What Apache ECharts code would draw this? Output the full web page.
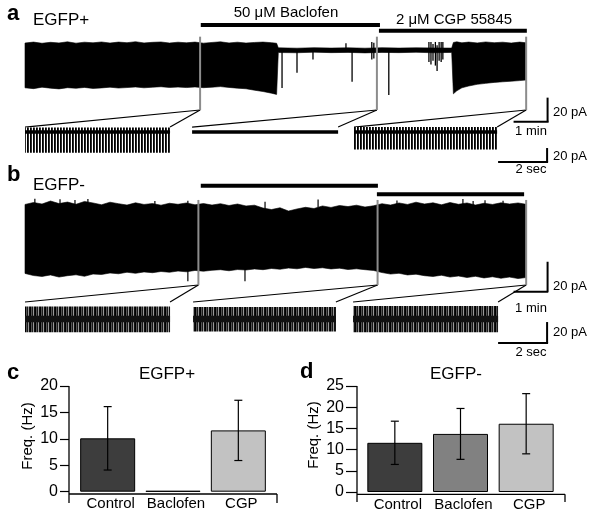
<!DOCTYPE html>
<html><head><meta charset="utf-8">
<script src="https://cdn.jsdelivr.net/npm/echarts@6/dist/echarts.min.js"></script>
<style>html,body{margin:0;padding:0;background:#fff}#c{width:600px;height:520px}</style>
</head><body><div id="c"></div>
<script>
// ---------- DATA ----------
// Panel a: EGFP+ continuous recording envelope (time in min, current in pA)
const aTime = [0,0.25,0.5,0.75,1,1.25,1.5,1.75,2,2.25,2.5,2.75,3,3.25,3.5,3.75,4,4.25,4.5,4.75,5,5.25,5.5,5.75,6,6.25,6.5,6.75,7,7.25,7.4,
  7.45,8,8.5,9,9.5,10,10.5,11,11.5,12,12.55,
  12.6,12.7,12.85,13.05,13.3,13.55,13.8,14.05,14.3,14.55,14.74];
const aHi = [5.8,6.6,5.6,6.4,5.9,6.8,5.7,6.5,6.0,6.7,5.8,6.6,6.1,6.9,5.9,6.4,6.7,5.8,6.5,6.0,6.6,5.7,6.3,6.8,5.9,6.5,5.8,6.3,6.6,6.1,5.6,
  1.8,1.5,1.9,1.6,1.8,1.5,1.9,1.6,1.8,1.7,1.6,
  6.3,6.8,6.0,6.6,5.9,6.7,6.1,6.5,5.8,6.6,6.0];
const aLo = [-31.5,-32.2,-31.0,-31.8,-32.4,-31.4,-31.9,-31.2,-32.0,-31.6,-31.0,-31.7,-31.3,-30.8,-31.5,-31.0,-30.6,-31.2,-30.9,-31.3,-30.8,-31.4,-31.0,-30.5,-31.2,-31.8,-32.3,-33.5,-34.6,-36.0,-37.0,
  -2.1,-2.3,-1.8,-2.2,-2.0,-2.4,-2.0,-2.2,-1.9,-2.3,-2.0,
  -36.5,-34.0,-31.5,-30.0,-28.6,-27.8,-27.0,-26.5,-26.0,-25.5,-25.0];
// isolated events during baclofen (time, top, bottom)
const aEventTime = [7.56,8.0,8.47,9.44,9.62,10.2,10.26,10.7,11.88,11.94,12.0,12.07,12.12,12.18,12.24,12.29];
const aEventHi   = [0,0,0,5.6,0,6.7,6.0,0,6.7,6.7,5.0,6.7,4.0,6.7,6.7,6.7];
const aEventLo   = [-31.7,-19,-8,0,-26.5,-8,-7,-37.5,-10,-12,-9,-13,-17.5,-9,-10,-8];
const aMarkTime = [5.15,10.35,14.74];            // expanded-view positions
const aBaclofen = [5.17,10.44];                  // 50 µM Baclofen application (min)
const aCGP = [10.41,14.76];                      // 2 µM CGP 55845 application (min)

// Panel b: EGFP- continuous recording envelope
const bTime = [0,0.25,0.5,0.75,1,1.25,1.5,1.75,2,2.25,2.5,2.75,3,3.25,3.5,3.75,4,4.25,4.5,4.75,5,5.25,5.5,5.75,6,6.25,6.5,6.75,7,7.25,7.5,7.75,8,8.25,8.5,8.75,9,9.25,9.5,9.75,10,10.25,10.5,10.75,11,11.25,11.5,11.75,12,12.25,12.5,12.75,13,13.25,13.5,13.75,14,14.25,14.5,14.74];
const bHi = [23.7,25.0,24.0,26.0,24.3,25.3,23.8,25.7,24.7,23.5,25.2,24.2,23.3,24.8,23.7,24.3,23.2,24.5,23.8,24.7,23.5,24.3,23.3,24.2,23.0,24.0,22.7,23.2,21.3,20.3,21.5,19.3,20.7,21.8,21.0,22.7,21.7,23.0,22.3,23.2,22.0,22.8,24.2,23.3,24.7,23.7,25.2,24.0,24.8,23.5,25.0,23.8,24.7,23.3,24.5,23.7,24.8,24.0,24.7,23.8];
const bLo = [-22.3,-23.7,-24.3,-23.3,-24.7,-23.8,-23.2,-24.2,-22.7,-23.0,-22.0,-22.5,-21.5,-22.2,-21.3,-21.8,-21.0,-21.5,-20.7,-21.2,-20.3,-20.8,-20.2,-19.8,-20.5,-19.7,-20.0,-19.3,-19.8,-19.0,-19.5,-18.7,-19.2,-18.3,-19.0,-18.5,-19.3,-18.8,-19.7,-19.2,-19.8,-20.3,-21.7,-22.7,-22.2,-23.3,-22.8,-23.8,-24.3,-23.5,-24.7,-24.0,-25.0,-24.2,-25.3,-24.5,-25.5,-24.7,-25.7,-25.0];
const bEventTime = [0.29,1.03,1.47,1.85,3.82,4.79,4.79,6.47,7.06,8.62,10.94,12.88,13.18,13.53,14.06];
const bEventHi   = [27.5,27.2,26.7,27.3,26.0,26.2,0,0,25.5,27.0,26.3,27.3,26.0,26.5,26.2];
const bEventLo   = [23.3,23.3,23.3,23.3,23.3,23.3,-27.5,-27.5,20,21.7,21.7,23.3,23.3,23.3,23.3];
const bMarkTime = [5.1,10.37,14.74];
const bBaclofen = [5.17,10.38];
const bCGP = [10.35,14.68];

// Expanded sweeps (time in s, current in pA)
const miniAStart = [0,6.82,13.43];
const miniAEnd   = [5.92,12.78,19.27];
const miniAHi    = [6.5,0,7.0];
const miniALo    = [-29.5,0,-25.0];
const miniBStart = [0,6.86,13.39];
const miniBEnd   = [5.92,12.69,19.31];
const miniBHi    = [12,11.5,12.5];
const miniBLo    = [-12.5,-12,-12.5];

// Scale bars
const scaleMin = 1, scaleSec = 2, scalePA = 20;

// Panels c, d: firing frequency
const categories = ['Control','Baclofen','CGP'];
const plusMean = [10.1,0.15,11.6];
const plusErr  = [6.0,0,5.7];
const minusMean = [11.6,13.7,16.1];
const minusErr  = [5.1,6.0,7.1];

// ---------- STYLE / LAYOUT ----------
const FONT = "'Liberation Sans', Arial, Helvetica, sans-serif";
const barColors = ['#3d3d3d','#818181','#c2c2c2'];
function stripe(cols){const c=document.createElement('canvas');c.width=cols.length;c.height=2;const g=c.getContext('2d');cols.forEach((col,i)=>{g.fillStyle=col;g.fillRect(i,0,1,2);});return c;}
const stripeA = stripe(['#000','#2a2a2a','#fff']);
const stripeB = stripe(['#000','#555','#1a1a1a','#999','#111']);

const chart = echarts.init(document.getElementById('c'), null, {renderer:'canvas'});

function hiddenX(i,min,max){return {gridIndex:i,type:'value',min,max,show:false};}
function hiddenY(i,min,max){return {gridIndex:i,type:'value',min,max,show:false};}

function bandSeries(i,T,HI,LO,fill,stroke){
  return {type:'custom',xAxisIndex:i,yAxisIndex:i,silent:true,
    data:T.map((t,k)=>[t,HI[k],LO[k]]),
    renderItem(params,api){
      if(params.dataIndex!==0) return null;
      const pts=[];
      for(let k=0;k<T.length;k++) pts.push(api.coord([T[k],HI[k]]));
      for(let k=T.length-1;k>=0;k--) pts.push(api.coord([T[k],LO[k]]));
      return {type:'polygon',shape:{points:pts},style:{fill:fill,stroke:stroke||null,lineWidth:0.6}};
    }};
}
function eventSeries(i,T,HI,LO,w){
  return {type:'custom',xAxisIndex:i,yAxisIndex:i,silent:true,
    data:T.map((t,k)=>[t,HI[k],LO[k]]),
    renderItem(params,api){
      const p1=api.coord([api.value(0),api.value(1)]), p2=api.coord([api.value(0),api.value(2)]);
      return {type:'line',shape:{x1:p1[0],y1:p1[1],x2:p2[0],y2:p2[1]},style:{stroke:'#000',lineWidth:w||1.3}};
    }};
}
function rectSeries(i,S,E,HI,LO,fill,z){
  return {type:'custom',xAxisIndex:i,yAxisIndex:i,silent:true,z:z||2,
    data:S.map((s,k)=>[s,E[k],HI[k],LO[k]]),
    renderItem(params,api){
      if(api.value(2)===api.value(3)) return null;
      const p1=api.coord([api.value(0),api.value(2)]), p2=api.coord([api.value(1),api.value(3)]);
      return {type:'rect',shape:{x:p1[0],y:p1[1],width:p2[0]-p1[0],height:p2[1]-p1[1]},style:{fill:fill}};
    }};
}
function segSeries(i,segs,color,w){
  return {type:'custom',xAxisIndex:i,yAxisIndex:i,silent:true,
    data:segs,
    renderItem(params,api){
      const p1=api.coord([api.value(0),api.value(1)]), p2=api.coord([api.value(2),api.value(3)]);
      return {type:'line',shape:{x1:p1[0],y1:p1[1],x2:p2[0],y2:p2[1]},style:{stroke:color,lineWidth:w,lineCap:'butt'}};
    }};
}
function errSeries(i,mean,err){
  return {type:'custom',xAxisIndex:i,yAxisIndex:i,silent:true,z:5,
    data:mean.map((m,k)=>[k,m-err[k],m+err[k]]),
    renderItem(params,api){
      if(api.value(1)===api.value(2)) return null;
      const lo=api.coord([api.value(0),api.value(1)]), hi=api.coord([api.value(0),api.value(2)]);
      const cw=4, st={stroke:'#000',lineWidth:1.2};
      return {type:'group',children:[
        {type:'line',shape:{x1:lo[0],y1:lo[1],x2:hi[0],y2:hi[1]},style:st},
        {type:'line',shape:{x1:hi[0]-cw,y1:hi[1],x2:hi[0]+cw,y2:hi[1]},style:st},
        {type:'line',shape:{x1:lo[0]-cw,y1:lo[1],x2:lo[0]+cw,y2:lo[1]},style:st}]};
    }};
}

// layout constants (data-unit anchors)
const A = {gray:[11.1,-50], bac:20.8, cgp:16.1, sbX:15.37, sbY:-59.7, conn:7.1};
const B = {gray:[26.7,-30], bac:36.2, cgp:30.5, sbX:15.37, sbY:-34.5, conn:16.2};
const MA = {sbX:21.31, sbY:-42.9, base:2.4};
const MB = {sbX:21.31, sbY:-22.9, base:3.1};

function barX(i,cats){return {gridIndex:i,type:'category',data:cats,axisLine:{show:false},axisTick:{show:false},
  axisLabel:{color:'#000',fontSize:15,fontFamily:FONT,margin:5,interval:0,padding:[0,0,0,6]}};}
function barY(i,max,tickLen,margin,offset){return {gridIndex:i,type:'value',min:0,max:max,interval:5,offset:offset,
  axisLine:{show:false},splitLine:{show:false},axisTick:{show:true,length:tickLen,lineStyle:{color:'#000',width:1.2}},
  axisLabel:{color:'#000',fontSize:16,fontFamily:FONT,margin:margin}};}

const option = {
  animation:false,
  backgroundColor:'#fff',
  grid:[
    {left:25,top:20,width:527,height:102,outerBoundsMode:'none'},
    {left:25,top:119.75,width:526.75,height:45.5,outerBoundsMode:'none'},
    {left:25,top:180,width:527,height:135,outerBoundsMode:'none'},
    {left:25,top:300.1,width:526.75,height:50.4,outerBoundsMode:'none'},
    {left:75,top:386,width:196,height:105.7,outerBoundsMode:'none'},
    {left:362,top:386,width:197,height:106,outerBoundsMode:'none'}
  ],
  xAxis:[hiddenX(0,0,15.5),hiddenX(1,0,21.5),hiddenX(2,0,15.5),hiddenX(3,0,21.5),barX(4,categories),barX(5,categories)],
  yAxis:[hiddenY(0,-60,25),hiddenY(1,-47.5,17.5),hiddenY(2,-50,40),hiddenY(3,-30,18),barY(4,20,9,11,6),barY(5,25,11,13,5)],
  series:[
    // panel a
    bandSeries(0,aTime,aHi,aLo,'#000','#000'),
    eventSeries(0,aEventTime,aEventHi,aEventLo,1.3),
    segSeries(0,aMarkTime.map(t=>[t,A.gray[0],t,A.gray[1]]),'#8c8c8c',2),
    segSeries(0,[[aBaclofen[0],A.bac,aBaclofen[1],A.bac],[aCGP[0],A.cgp,aCGP[1],A.cgp]],'#000',4),
    segSeries(0,[[A.sbX,A.sbY+scalePA,A.sbX,A.sbY],[A.sbX-scaleMin,A.sbY,A.sbX+0.03,A.sbY]],'#000',2),
    // mini a
    rectSeries(1,miniAStart,miniAEnd,miniAHi,miniALo,{image:stripeA,repeat:'repeat'},2),
    rectSeries(1,miniAStart,miniAEnd,miniAStart.map(()=>MA.base),miniAStart.map(()=>-MA.base),'#000',3),
    segSeries(1,[[MA.sbX,MA.sbY+scalePA,MA.sbX,MA.sbY],[MA.sbX-scaleSec,MA.sbY,MA.sbX+0.04,MA.sbY]],'#000',2),
    // panel b
    bandSeries(2,bTime,bHi,bLo,'#000','#000'),
    eventSeries(2,bEventTime,bEventHi,bEventLo,1.2),
    segSeries(2,bMarkTime.map(t=>[t,B.gray[0],t,B.gray[1]]),'#8c8c8c',2),
    segSeries(2,[[bBaclofen[0],B.bac,bBaclofen[1],B.bac],[bCGP[0],B.cgp,bCGP[1],B.cgp]],'#000',4),
    segSeries(2,[[B.sbX,B.sbY+scalePA,B.sbX,B.sbY],[B.sbX-scaleMin,B.sbY,B.sbX+0.02,B.sbY]],'#000',2),
    // mini b
    rectSeries(3,miniBStart,miniBEnd,miniBHi,miniBLo,{image:stripeB,repeat:'repeat'},2),
    rectSeries(3,miniBStart,miniBEnd,miniBStart.map(()=>MB.base),miniBStart.map(()=>-MB.base),'#111',3),
    segSeries(3,[[MB.sbX,MB.sbY+scalePA,MB.sbX,MB.sbY],[MB.sbX-scaleSec,MB.sbY,MB.sbX+0.04,MB.sbY]],'#000',2),
    // panel c
    {type:'bar',xAxisIndex:4,yAxisIndex:4,barWidth:55,silent:true,
      data:plusMean.map((v,k)=>({value:v,itemStyle:{color:barColors[k],borderColor:'#000',borderWidth:1}}))},
    errSeries(4,plusMean,plusErr),
    // panel d
    {type:'bar',xAxisIndex:5,yAxisIndex:5,barWidth:55,silent:true,
      data:minusMean.map((v,k)=>({value:v,itemStyle:{color:barColors[k],borderColor:'#000',borderWidth:1}}))},
    errSeries(5,minusMean,minusErr)
  ]
};
chart.setOption(option);

// ---------- annotations ----------
function txt(s,x,y,size,opt){opt=opt||{};return {type:'text',x:x,y:y,rotation:opt.rot||0,silent:true,
  style:{text:s,fontSize:size,fontFamily:FONT,fontWeight:opt.bold?'bold':'normal',fill:'#000',align:opt.align||'left',verticalAlign:'middle'}};}
function ln(x1,y1,x2,y2,w,c){return {type:'line',silent:true,shape:{x1,y1,x2,y2},style:{stroke:c||'#000',lineWidth:w||1.2}};}
const px=(i,p)=>chart.convertToPixel({xAxisIndex:i,yAxisIndex:i},p);

const g=[];
g.push(txt('a',7,14,22,{bold:true}));
g.push(txt('EGFP+',33,20.5,17));
g.push(txt('50 \u03BCM Baclofen',286,13,15,{align:'center'}));
g.push(txt('2 \u03BCM CGP 55845',454,19.5,15,{align:'center'}));
g.push(txt('b',7,175,22,{bold:true}));
g.push(txt('EGFP-',33,185,17));
// scale bar labels
[[112.5,131,156,169.5],[286.7,308,332,352]].forEach(r=>{
  g.push(txt('20 pA',553,r[0],13)); g.push(txt('1 min',531,r[1],13,{align:'center'}));
  g.push(txt('20 pA',553,r[2],13)); g.push(txt('2 sec',531,r[3],13,{align:'center'}));
});
// zoom connectors
aMarkTime.forEach((t,k)=>{const p=px(0,[t,A.gray[1]]);const l=px(1,[miniAStart[k],A.conn]);const r=px(1,[miniAEnd[k],A.conn]);
  g.push(ln(p[0],p[1],l[0],l[1],1.2)); g.push(ln(p[0],p[1],r[0],r[1],1.2));});
bMarkTime.forEach((t,k)=>{const p=px(2,[t,B.gray[1]]);const l=px(3,[miniBStart[k],B.conn]);const r=px(3,[miniBEnd[k],B.conn]);
  g.push(ln(p[0],p[1],l[0],l[1],1.2)); g.push(ln(p[0],p[1],r[0],r[1],1.2));});
// bar panels
g.push(txt('c',7,373,22,{bold:true}));
g.push(txt('d',300,372,22,{bold:true}));
g.push(txt('EGFP+',167,374,17,{align:'center'}));
g.push(txt('EGFP-',456,374,17,{align:'center'}));
g.push(txt('Freq. (Hz)',27.5,436,15,{align:'center',rot:Math.PI/2}));
g.push(txt('Freq. (Hz)',313.5,435,15,{align:'center',rot:Math.PI/2}));
// axis frames (Igor style)
g.push(ln(69,386,69,503,1.3)); g.push(ln(69,494,277,494,1.3)); g.push(ln(277,494,277,503,1.3));
g.push(ln(357,386,357,502,1.3)); g.push(ln(357,494.3,565,494.3,1.3)); g.push(ln(565,494.3,565,502,1.3));
chart.setOption({graphic:g});
</script></body></html>
